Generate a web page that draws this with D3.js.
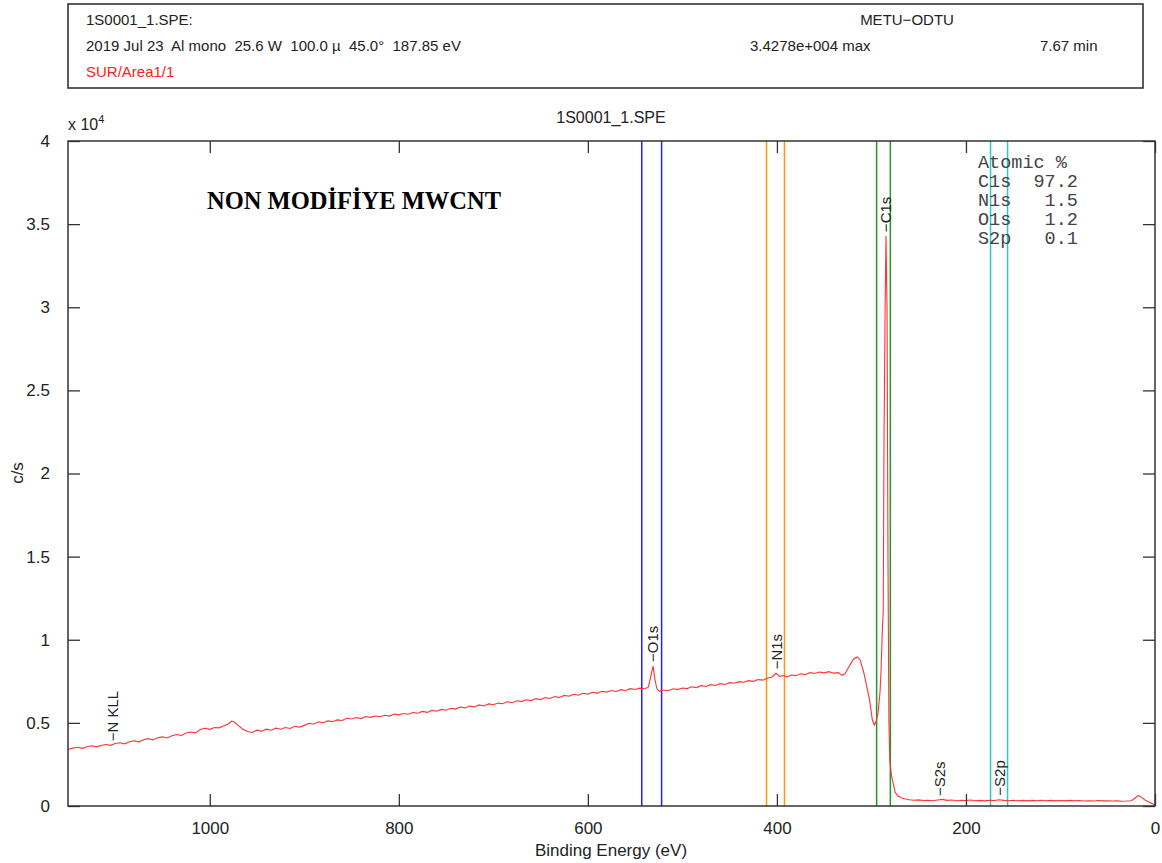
<!DOCTYPE html>
<html>
<head>
<meta charset="utf-8">
<script src="https://cdn.jsdelivr.net/npm/d3@7"></script>
<style>
  body { margin: 0; background: #fff; }
  text { font-family: "Liberation Sans", Arial, sans-serif; fill: #222; white-space: pre; }
</style>
</head>
<body>
<svg width="1162" height="863"></svg>
<script>
// survey spectrum, [binding energy (eV), counts per second]
var spectrum = [
  [1150,3400],[1145,3480],[1140,3530],[1135,3470],[1130,3560],[1125,3620],[1120,3560],[1115,3640],
  [1110,3700],[1105,3650],[1100,3760],[1095,3800],[1090,3740],[1085,3870],[1080,3920],[1075,3860],
  [1070,3990],[1065,4050],[1060,3970],[1055,4110],[1050,4160],[1045,4090],[1040,4230],[1035,4300],
  [1030,4240],[1025,4390],[1020,4450],[1015,4400],[1010,4600],[1005,4680],[1000,4610],[995,4720],
  [990,4700],[985,4830],[980,4950],[977,5100],[974,5050],[970,4850],[965,4620],[960,4480],
  [955,4420],[950,4560],[945,4500],[940,4620],[935,4560],[930,4680],[925,4620],[920,4720],
  [915,4660],[910,4790],[905,4740],[900,4850],[895,4980],[890,4920],[885,5060],[880,5010],
  [875,5120],[870,5070],[865,5180],[860,5140],[855,5280],[850,5230],[845,5320],[840,5260],
  [835,5380],[830,5330],[825,5410],[820,5370],[815,5460],[810,5410],[805,5530],[800,5480],
  [795,5560],[790,5520],[785,5620],[780,5580],[775,5690],[770,5630],[765,5750],[760,5700],
  [755,5810],[750,5760],[745,5880],[740,5830],[735,5950],[730,5900],[725,6010],[720,5960],
  [715,6080],[710,6020],[705,6140],[700,6090],[695,6190],[690,6150],[685,6270],[680,6210],
  [675,6330],[670,6280],[665,6390],[660,6340],[655,6460],[650,6400],[645,6520],[640,6470],
  [635,6580],[630,6530],[625,6650],[620,6600],[615,6720],[610,6660],[605,6780],[600,6730],
  [595,6840],[590,6790],[585,6900],[580,6850],[575,6950],[570,6890],[565,7000],[560,6950],
  [555,7060],[550,7010],[545,7090],[540,7050],[536,7150],[533,7900],[531,8420],[529,7600],
  [527,7050],[524,6900],[520,6980],[515,6930],[510,7050],[505,7000],[500,7100],[495,7060],
  [490,7170],[485,7120],[480,7240],[475,7190],[470,7300],[465,7250],[460,7360],[455,7310],
  [450,7420],[445,7380],[440,7480],[435,7440],[430,7540],[425,7500],[420,7610],[415,7570],
  [410,7680],[405,7760],[401,7980],[397,7800],[393,7850],[389,7760],[385,7880],[380,7840],
  [375,7950],[370,7900],[365,8020],[360,7970],[355,8060],[350,8010],[345,8080],[340,7990],
  [335,8020],[331,7860],[328,7950],[324,8360],[319,8840],[315,8960],[312,8800],[308,8000],
  [305,7200],[302,6380],[299,5170],[297,4870],[295,5100],[293,5600],[291,6800],[290,7900],
  [288.5,10500],[287.5,11800],[286.7,22000],[285.5,30000],[284.6,34278],[283.5,30000],
  [282.5,15000],[281.5,5000],[280.5,2700],[279,1900],[277.5,1500],[275,840],[272,600],
  [268,480],[264,420],[260,380],[255,350],[250,370],[245,330],[240,350],[235,320],[230,360],
  [225,400],[220,340],[215,360],[210,320],[205,350],[200,330],[195,360],[190,320],[185,340],
  [180,310],[175,350],[170,330],[165,380],[160,340],[155,320],[150,350],[145,320],[140,340],
  [135,310],[130,340],[125,320],[120,350],[115,320],[110,340],[105,310],[100,330],[95,310],
  [90,340],[85,320],[80,330],[75,300],[70,320],[65,300],[60,330],[55,310],[50,320],[45,300],
  [40,310],[35,290],[30,300],[25,320],[21,480],[18,620],[15,560],[11,380],[7,260],[3,150],[0,60]
];

// integration window lines (eV) and their colours
var regionNames  = ["O1s", "N1s", "C1s", "S2p"];
var regionLimits = [[543, 522], [411, 392], [294.5, 280], [174, 156]];
var regionColors = ["#2222ee", "#ff9900", "#229922", "#33c6c6"];

// peak markers
var peakLabels   = ["N KLL", "O1s", "N1s", "C1s", "S2s", "S2p"];
var peakEnergies = [1103, 531, 400, 284.6, 228, 164];

// quantification table
var quantElements = ["C1s", "N1s", "O1s", "S2p"];
var quantPercent  = ["97.2", "1.5", "1.2", "0.1"];

var xTicks = [1000, 800, 600, 400, 200, 0];
var yTicks = [0, 5000, 10000, 15000, 20000, 25000, 30000, 35000, 40000];

var headerLines = [
  "1S0001_1.SPE:",
  "2019 Jul 23  Al mono  25.6 W  100.0 \u00b5  45.0\u00b0  187.85 eV",
  "SUR/Area1/1"
];

var svg = d3.select("svg");
var pLeft = 68, pRight = 1155, pTop = 141, pBottom = 806;

var x = d3.scaleLinear().domain([1150, 0]).range([pLeft, pRight]);
var y = d3.scaleLinear().domain([0, 40000]).range([pBottom, pTop]);

// header box
svg.append("rect")
   .attr("x", 68).attr("y", 4).attr("width", 1075).attr("height", 84)
   .attr("fill", "none").attr("stroke", "#333").attr("stroke-width", 1.6);

svg.selectAll(".hdr")
   .data(headerLines)
   .enter().append("text")
   .attr("x", 86)
   .attr("y", function(d, i) { return 25 + i * 26; })
   .style("font-size", "15px")
   .style("fill", function(d, i) { return i == 2 ? "#ff2020" : "#222"; })
   .text(function(d) { return d; });

svg.append("text").attr("x", 907).attr("y", 25).attr("text-anchor", "middle")
   .style("font-size", "15px").text("METU\u2212ODTU");
svg.append("text").attr("x", 750).attr("y", 51)
   .style("font-size", "15px").text("3.4278e+004 max");
svg.append("text").attr("x", 1040).attr("y", 51)
   .style("font-size", "15px").text("7.67 min");

// plot title
svg.append("text").attr("x", 611).attr("y", 123).attr("text-anchor", "middle")
   .style("font-size", "16px").text("1S0001_1.SPE");

// region lines
regionLimits.forEach(function(lim, i) {
  svg.selectAll(".reg" + i)
     .data(lim)
     .enter().append("line")
     .attr("x1", function(d) { return x(d); })
     .attr("x2", function(d) { return x(d); })
     .attr("y1", pTop).attr("y2", pBottom)
     .attr("stroke", regionColors[i])
     .attr("stroke-width", 1.5);
});

// spectrum
var line = d3.line()
   .x(function(d) { return x(d[0]); })
   .y(function(d) { return y(d[1]); });

svg.append("path")
   .datum(spectrum)
   .attr("d", line)
   .attr("fill", "none")
   .attr("stroke", "#ff3333")
   .attr("stroke-width", 1.1);

// peak labels sit just above the curve
function countsAt(e) {
  var best = spectrum[0];
  spectrum.forEach(function(p) { if (Math.abs(p[0] - e) < Math.abs(best[0] - e)) best = p; });
  return best[1];
}
peakLabels.forEach(function(name, i) {
  var px = x(peakEnergies[i]), py = y(countsAt(peakEnergies[i])) - 4;
  svg.append("text")
     .attr("transform", "translate(" + px + "," + py + ") rotate(-90)")
     .attr("dy", "0.35em")
     .style("font-size", "15px")
     .text("\u2212" + name);
});

// axes
var xAxisB = d3.axisBottom(x).tickValues(xTicks).tickSize(-12).tickPadding(16).tickFormat(d3.format("d"));
var xAxisT = d3.axisTop(x).tickValues(xTicks).tickSize(-12).tickFormat("");
var yAxisL = d3.axisLeft(y).tickValues(yTicks).tickSize(-12).tickPadding(18)
   .tickFormat(function(d) { return d / 1e4; });
var yAxisR = d3.axisRight(y).tickValues(yTicks).tickSize(-12).tickFormat("");

[[xAxisB, "translate(0," + pBottom + ")"], [xAxisT, "translate(0," + pTop + ")"],
 [yAxisL, "translate(" + pLeft + ",0)"], [yAxisR, "translate(" + pRight + ",0)"]].forEach(function(a) {
  var g = svg.append("g").attr("transform", a[1]).call(a[0]);
  g.select(".domain").remove();
  g.selectAll("line").attr("stroke", "#333").attr("stroke-width", 1.3);
  g.selectAll("text").style("font-size", "17px").style("fill", "#222")
   .style("font-family", "'Liberation Sans', Arial, sans-serif");
});

svg.append("rect")
   .attr("x", pLeft).attr("y", pTop).attr("width", pRight - pLeft).attr("height", pBottom - pTop)
   .attr("fill", "none").attr("stroke", "#333").attr("stroke-width", 1.5);

// exponent
var ex = svg.append("text").attr("x", 68).attr("y", 130).style("font-size", "16px");
ex.append("tspan").text("x 10");
ex.append("tspan").attr("dy", -7).style("font-size", "11px").text("4");

// axis titles
svg.append("text").attr("x", 611).attr("y", 856).attr("text-anchor", "middle")
   .style("font-size", "17px").text("Binding Energy (eV)");
svg.append("text").attr("transform", "translate(23," + 473 + ") rotate(-90)")
   .attr("text-anchor", "middle").style("font-size", "17px").text("c/s");

// sample caption
svg.append("text").attr("x", 207).attr("y", 209)
   .style("font-family", "'Liberation Serif', serif").style("font-weight", "bold")
   .style("font-size", "24.5px").style("fill", "#000")
   .text("NON MODİFİYE MWCNT");

// atomic % table
var tbl = svg.append("g").attr("transform", "translate(978,168)");
tbl.append("text").attr("y", 0)
   .style("font-family", "'Liberation Mono', monospace").style("font-size", "18.5px").style("fill", "#444")
   .text("Atomic %");
quantElements.forEach(function(el, i) {
  var row = el + "  " + ("     " + quantPercent[i]).slice(-4);
  tbl.append("text").attr("y", 19 * (i + 1))
     .style("font-family", "'Liberation Mono', monospace").style("font-size", "18.5px").style("fill", "#444")
     .text(row);
});
</script>
</body>
</html>
